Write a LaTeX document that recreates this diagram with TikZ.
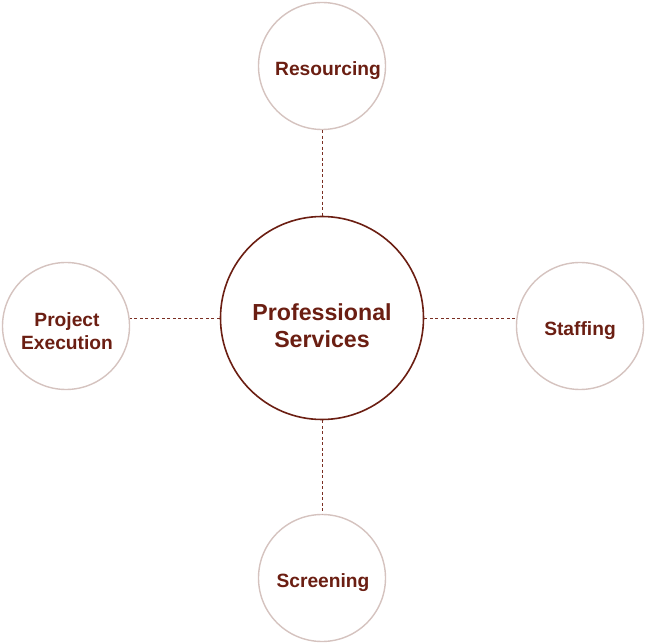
\documentclass[tikz,border=0pt]{standalone}
\usepackage{fontspec}
\setmainfont{Liberation Sans}
\definecolor{txt}{HTML}{6B1E12}
\definecolor{ring}{HTML}{D5C3BF}
\definecolor{dash}{HTML}{7A2E22}
\begin{document}
\begin{tikzpicture}[x=1pt,y=-1pt,
  outer/.style={circle,draw=ring,line width=1.4pt,fill=white,minimum size=127pt,inner sep=0pt},
  hub/.style={circle,draw=txt,line width=1.6pt,fill=white,minimum size=203pt,inner sep=0pt},
  small/.style={text=txt,font=\bfseries\fontsize{19.2}{23}\selectfont,align=center,inner sep=0pt},
  big/.style={text=txt,font=\bfseries\fontsize{23.2}{27}\selectfont,align=center,inner sep=0pt},
  link/.style={draw=dash,line width=0.9pt,dash pattern=on 3pt off 2.5pt}]
\useasboundingbox (0,0) rectangle (646,644);
\node[hub] (c) at (322,318) {};
\node[big] (ct) at (322,326) {Professional\\Services};
\node[outer] (t) at (322,66) {};
\node[outer] (l) at (66,326) {};
\node[outer] (r) at (580,326) {};
\node[outer] (b) at (322,578) {};
\node[small] (tt) at (328,70.5) {Resourcing};
\node[small] (lt) at (67,331) {Project\\Execution};
\node[small] (rt) at (580,331) {Staffing};
\node[small] (bt) at (323,583) {Screening};
\draw[link] (t.south) -- (c.north);
\draw[link] (c.south) -- (b.north);
\draw[link] (c.west) -- (l.east |- c.west);
\draw[link] (c.east) -- (r.west |- c.east);
\end{tikzpicture}
\end{document}
